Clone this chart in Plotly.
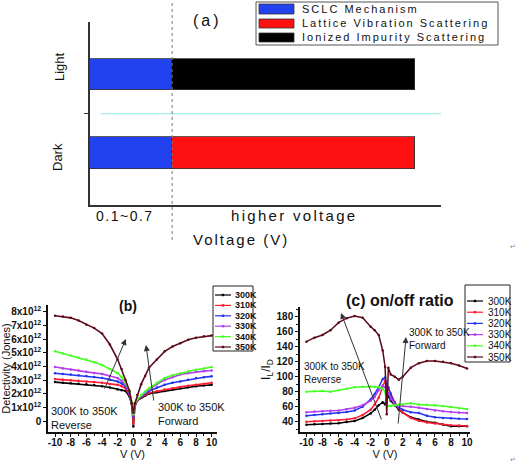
import numpy as np
import plotly.graph_objects as go

# ---------------- Panel (a) data ----------------
a_state_labels = ["Dark", "Light"]
a_state_pos = [0, 1]
a_sclc_extent = [23.4, 23.4]        # low-voltage (0.1~0.7 V) regime
a_lattice_extent = [69.2, 0.0]      # higher voltage, dark
a_ionized_extent = [0.0, 69.2]      # higher voltage, light
a_legend_labels = ["SCLC Mechanism", "Lattice Vibration Scattering", "Ionized Impurity Scattering"]

# ---------------- Panels (b) & (c) data ----------------
temps = ["300K", "310K", "320K", "330K", "340K", "350K"]
V = [-10, -9, -8, -7, -6, -5, -4, -3, -2, -1.5, -1, -0.5, -0.2, 0, 0.2, 0.5, 1, 1.5, 2, 3, 4, 5, 6, 7, 8, 9, 10]

# Detectivity in units of 1e12 Jones
det_300K = [2.85, 2.8, 2.77, 2.73, 2.7, 2.63, 2.55, 2.45, 2.3, 2.25, 2.2, 1.8, 1.2, -0.4, 1.1, 1.5, 1.7, 1.85, 2.0, 2.1, 2.2, 2.3, 2.4, 2.48, 2.55, 2.6, 2.65]
det_310K = [3.07, 3.03, 2.98, 2.94, 2.9, 2.85, 2.8, 2.72, 2.65, 2.55, 2.4, 1.9, 1.3, -0.2, 1.1, 1.5, 1.75, 1.9, 2.05, 2.18, 2.3, 2.4, 2.5, 2.58, 2.65, 2.72, 2.8]
det_320K = [3.5, 3.45, 3.4, 3.35, 3.3, 3.22, 3.15, 3.03, 2.9, 2.75, 2.55, 2.0, 1.35, 0.3, 1.2, 1.55, 1.8, 2.0, 2.2, 2.45, 2.65, 2.8, 2.9, 3.03, 3.15, 3.2, 3.27]
det_330K = [3.95, 3.85, 3.78, 3.7, 3.6, 3.52, 3.45, 3.3, 3.15, 2.95, 2.65, 2.1, 1.4, 0.4, 1.2, 1.6, 1.85, 2.1, 2.3, 2.7, 3.0, 3.2, 3.4, 3.5, 3.6, 3.65, 3.7]
det_340K = [5.1, 4.95, 4.8, 4.65, 4.5, 4.3, 4.1, 3.8, 3.5, 3.2, 2.8, 2.2, 1.4, 0.5, 1.3, 1.6, 1.9, 2.15, 2.4, 2.8, 3.15, 3.35, 3.5, 3.65, 3.75, 3.85, 3.95]
det_350K = [7.7, 7.65, 7.55, 7.35, 7.05, 6.8, 6.4, 5.6, 4.5, 3.8, 3.0, 2.2, 1.3, 0.6, 1.3, 1.9, 2.7, 3.3, 3.9, 4.5, 5.1, 5.45, 5.7, 5.95, 6.1, 6.2, 6.25]

# On/off ratio IL/ID
ratio_300K = [36, 36.5, 37, 37.5, 38, 39.5, 41, 45, 51, 56, 62, 66, 63, 76, 74, 68, 62, 56, 52, 46, 43, 40, 38.5, 36, 34, 34, 34]
ratio_310K = [40, 40.5, 41, 41.5, 42, 43, 44.5, 49, 56, 63, 72, 88, 95, 86, 84, 78, 66, 58, 52, 45, 41.4, 39, 37.7, 36.5, 35.3, 34.8, 34.4]
ratio_320K = [48, 49, 50, 51, 51.6, 53, 55, 60, 70, 77, 86, 97, 99, 90, 86, 76, 64, 59, 56, 52.6, 51.6, 48, 46, 45, 44.6, 44, 43.7]
ratio_330K = [52.5, 53.5, 54, 54.5, 55, 56.5, 58.6, 62, 68, 73, 82, 88, 86, 82, 78, 70, 62, 61, 61, 60, 58.6, 57, 55, 54, 53, 52, 51.6]
ratio_340K = [80, 80.5, 81, 80, 82, 84, 86, 86.5, 87, 86.5, 86, 84, 80, 62, 61, 61, 62, 62.5, 63, 64.6, 63, 62.5, 62, 61, 59.5, 58, 57]
ratio_350K = [146.7, 152, 155.6, 162, 172, 178, 181, 178.7, 166.7, 162, 155.6, 135, 113, 50, 112, 103, 100, 96, 100, 112, 118, 121, 121, 120, 118, 115, 111]

det_ticks_e12 = [0, 1, 2, 3, 4, 5, 6, 7, 8]
v_ticks = [-10, -8, -6, -4, -2, 0, 2, 4, 6, 8, 10]
v_ticktext = ["-10", "-8", "-6", "-4", "-2", "0", "2", "4", "6", "8", "10"]
ratio_ticks = [40, 60, 80, 100, 120, 140, 160, 180]

det_series = [det_300K, det_310K, det_320K, det_330K, det_340K, det_350K]
ratio_series = [ratio_300K, ratio_310K, ratio_320K, ratio_330K, ratio_340K, ratio_350K]
colors = ["#000000", "#ff1a30", "#2233ee", "#b43cf0", "#44ff22", "#5c0a1a"]

W, H = 520, 464
def px(x):
    return x / W
def py(y):
    return 1 - y / H

ARIAL = "Liberation Sans, Arial, sans-serif"
fig = go.Figure()

# ---- Panel (a) bars ----
bar_line = dict(color="#333333", width=0.8)
fig.add_trace(go.Bar(y=a_state_pos, x=a_sclc_extent, orientation="h", width=0.4,
                     marker=dict(color="#2242f0", line=bar_line), xaxis="x", yaxis="y",
                     name=a_legend_labels[0]))
fig.add_trace(go.Bar(y=a_state_pos, x=a_lattice_extent, orientation="h", width=0.4,
                     marker=dict(color="#ff1010", line=bar_line), xaxis="x", yaxis="y",
                     name=a_legend_labels[1]))
fig.add_trace(go.Bar(y=a_state_pos, x=a_ionized_extent, orientation="h", width=0.4,
                     marker=dict(color="#000000", line=bar_line), xaxis="x", yaxis="y",
                     name=a_legend_labels[2]))

# ---- Panel (b) lines ----
for t, s, c in zip(temps, det_series, colors):
    fig.add_trace(go.Scatter(x=V, y=np.array(s) * 1e12, mode="lines+markers", name=t,
                             line=dict(color=c, width=1.6), marker=dict(size=2.5, color=c),
                             xaxis="x2", yaxis="y2"))
# ---- Panel (c) lines ----
for t, s, c in zip(temps, ratio_series, colors):
    fig.add_trace(go.Scatter(x=V, y=s, mode="lines+markers", name=t,
                             line=dict(color=c, width=1.5), marker=dict(size=2.5, color=c),
                             xaxis="x3", yaxis="y3"))

axis_common = dict(showgrid=False, zeroline=False, automargin=False)
tickfont_b = dict(family=ARIAL, size=10, color="#111", weight="bold")

fig.update_layout(
    width=W, height=H, margin=dict(l=0, r=0, t=0, b=0),
    paper_bgcolor="white", plot_bgcolor="white", showlegend=False,
    barmode="stack", bargap=0,
    xaxis=dict(domain=[px(90), px(441)], range=[0, 100], showticklabels=False, ticks="",
               showline=True, linecolor="#333", linewidth=1.5, anchor="y", **axis_common),
    yaxis=dict(domain=[py(205), py(22)], range=[-0.662, 1.669], tickvals=[0.5], ticks="outside",
               ticklen=4, tickcolor="#333", showticklabels=False,
               showline=True, linecolor="#333", linewidth=1.5, anchor="x", **axis_common),
    xaxis2=dict(domain=[px(48), px(217)], range=[-10.9, 10.68], tickvals=v_ticks, ticktext=v_ticktext,
                tickangle=0, ticks="outside", ticklen=3, tickwidth=1.2, tickcolor="#111",
                ticklabelstandoff=-3,
                minor=dict(dtick=1, ticks="outside", ticklen=2, tickcolor="#111"),
                tickfont=tickfont_b, showline=True, linecolor="#111", linewidth=1.5, anchor="y2",
                title=dict(text="V (V)", font=dict(family=ARIAL, size=11, color="#111"), standoff=0),
                **axis_common),
    yaxis2=dict(domain=[py(432), py(305)], range=[-0.8e12, 8.49e12],
                tickvals=[v * 1e12 for v in det_ticks_e12],
                ticktext=["0"] + ["%dx10<sup>12</sup>" % v for v in det_ticks_e12[1:]],
                ticks="outside", ticklen=3, tickwidth=1.2, tickcolor="#111", tickfont=tickfont_b,
                showline=True, linecolor="#111", linewidth=1.5, anchor="x2",
                title=dict(text="Detectivity (Jones)", font=dict(family=ARIAL, size=11, color="#111"), standoff=1),
                **axis_common),
    xaxis3=dict(domain=[px(300), px(470)], range=[-10.8, 10.37], tickvals=v_ticks, ticktext=v_ticktext,
                tickangle=0, ticks="outside", ticklen=3, tickwidth=1.2, tickcolor="#111",
                ticklabelstandoff=-3,
                minor=dict(dtick=1, ticks="outside", ticklen=2, tickcolor="#111"),
                tickfont=tickfont_b, showline=True, linecolor="#111", linewidth=1.5, anchor="y3",
                title=dict(text="V (V)", font=dict(family=ARIAL, size=11, color="#111"), standoff=0),
                **axis_common),
    yaxis3=dict(domain=[py(432), py(307)], range=[26.3, 192.9], tickvals=ratio_ticks, ticks="outside",
                ticklen=3, tickwidth=1.2, tickcolor="#111",
                minor=dict(dtick=10, ticks="outside", ticklen=2, tickcolor="#111"),
                tickfont=tickfont_b, showline=True, linecolor="#111", linewidth=1.5, anchor="x3",
                title=dict(text="I<sub>L</sub>/I<sub>D</sub>", font=dict(family=ARIAL, size=12, color="#111"), standoff=3),
                **axis_common),
)

shapes = []
annots = []

def note(x, y, text, size, xanchor="center", yanchor="middle", **kw):
    annots.append(dict(x=px(x), y=py(y), xref="paper", yref="paper", text=text, showarrow=False,
                       xanchor=xanchor, yanchor=yanchor,
                       font=dict(family=ARIAL, size=size, color=kw.pop("color", "#111")), **kw))

# ---- Panel (a) decorations ----
shapes.append(dict(type="line", xref="x domain", yref="y", x0=0.03, x1=1, y0=0.5, y1=0.5,
                   line=dict(color="#8ee8e0", width=1.2)))
shapes.append(dict(type="line", xref="x", yref="paper", x0=a_sclc_extent[0], x1=a_sclc_extent[0],
                   y0=py(240), y1=1, line=dict(color="#777", width=1, dash="dot")))
# legend box for (a)
shapes.append(dict(type="rect", xref="paper", yref="paper", x0=px(256), x1=px(498), y0=py(45), y1=py(2),
                   line=dict(color="#555", width=1), fillcolor="white", layer="above"))
a_colors = ["#2242f0", "#ff1010", "#000000"]
a_rows = [(4, 14), (19, 28), (33, 42)]
for (t0, t1), c, lab in zip(a_rows, a_colors, a_legend_labels):
    shapes.append(dict(type="rect", xref="paper", yref="paper", x0=px(259), x1=px(294), y0=py(t1), y1=py(t0),
                       line=dict(color="#333", width=0.8), fillcolor=c, layer="above"))
    note(300, (t0 + t1) / 2, '<span style="letter-spacing:2px">%s</span>' % lab, 11, xanchor="left")
note(207, 20, '<span style="letter-spacing:3px">(a)</span>', 16)
note(60, 67, a_state_labels[1], 13, textangle=-90)
note(57, 157, a_state_labels[0], 13, textangle=-90)
note(124.5, 216, '<span style="letter-spacing:1.5px">0.1~0.7</span>', 14)
note(293.5, 216, '<span style="letter-spacing:2.3px">higher voltage</span>', 15)
note(241, 239, '<span style="letter-spacing:2px">Voltage (V)</span>', 15)

# ---- legends for (b) and (c) ----
def small_legend(x0, x1, y0, y1, first_y, step, sx0, sx1, tx, fsize, bold):
    shapes.append(dict(type="rect", xref="paper", yref="paper", x0=px(x0), x1=px(x1), y0=py(y1), y1=py(y0),
                       line=dict(color="#222", width=1), fillcolor="white", layer="above"))
    for i, (t, c) in enumerate(zip(temps, colors)):
        yy = first_y + i * step
        shapes.append(dict(type="line", xref="paper", yref="paper", x0=px(sx0), x1=px(sx1), y0=py(yy), y1=py(yy),
                           line=dict(color=c, width=1.2), layer="above"))
        cx = (sx0 + sx1) / 2
        shapes.append(dict(type="rect", xref="paper", yref="paper", x0=px(cx - 1.2), x1=px(cx + 1.2),
                           y0=py(yy + 1.2), y1=py(yy - 1.2), line=dict(width=0), fillcolor=c, layer="above"))
        note(tx, yy, ("<b>%s</b>" % t) if bold else t, fsize, xanchor="left")

small_legend(213, 253, 286, 351, 295, 10.4, 215, 231, 233, 9, True)
small_legend(465, 510, 285, 362, 301, 11.2, 467, 483, 486, 10, False)

# ---- titles ----
note(128, 306, "<b>(b)</b>", 14)
note(400, 300, "<b>(c) on/off ratio</b>", 16)

# ---- arrows & texts (b) ----
arrow_style = dict(showarrow=True, arrowhead=2, arrowsize=1.2, arrowwidth=1, arrowcolor="#333", text="")
annots.append(dict(x=-0.95, y=6.0e12, ax=-3.75, ay=2.27e12, xref="x2", yref="y2", axref="x2", ayref="y2", **arrow_style))
annots.append(dict(x=1.61, y=5.56e12, ax=2.63, ay=1.39e12, xref="x2", yref="y2", axref="x2", ayref="y2", **arrow_style))
note(49, 403, "300K to 350K<br>Reverse", 11, xanchor="left", yanchor="top", align="left")
note(156, 399, "300K to 350K<br>Forward", 11, xanchor="left", yanchor="top", align="left")
# ---- arrows & texts (c) ----
annots.append(dict(x=-5.69, y=185, ax=-0.59, ay=41, xref="x3", yref="y3", axref="x3", ayref="y3", **arrow_style))
annots.append(dict(x=2.4, y=153, ax=1.41, ay=35.6, xref="x3", yref="y3", axref="x3", ayref="y3", **arrow_style))
note(302, 359, "300K to 350K<br>Reverse", 10, xanchor="left", yanchor="top", align="left")
note(407, 325, "300K to 350K<br>Forward", 10, xanchor="left", yanchor="top", align="left")

# small return marks
note(513, 246, "↵", 7, color="#888")
note(513, 459, "↵", 7, color="#888")

fig.update_layout(shapes=shapes, annotations=annots)
fig.write_html("out.html", config={"displayModeBar": False},
               post_script="document.body.style.margin='0';document.body.style.overflow='hidden';")
